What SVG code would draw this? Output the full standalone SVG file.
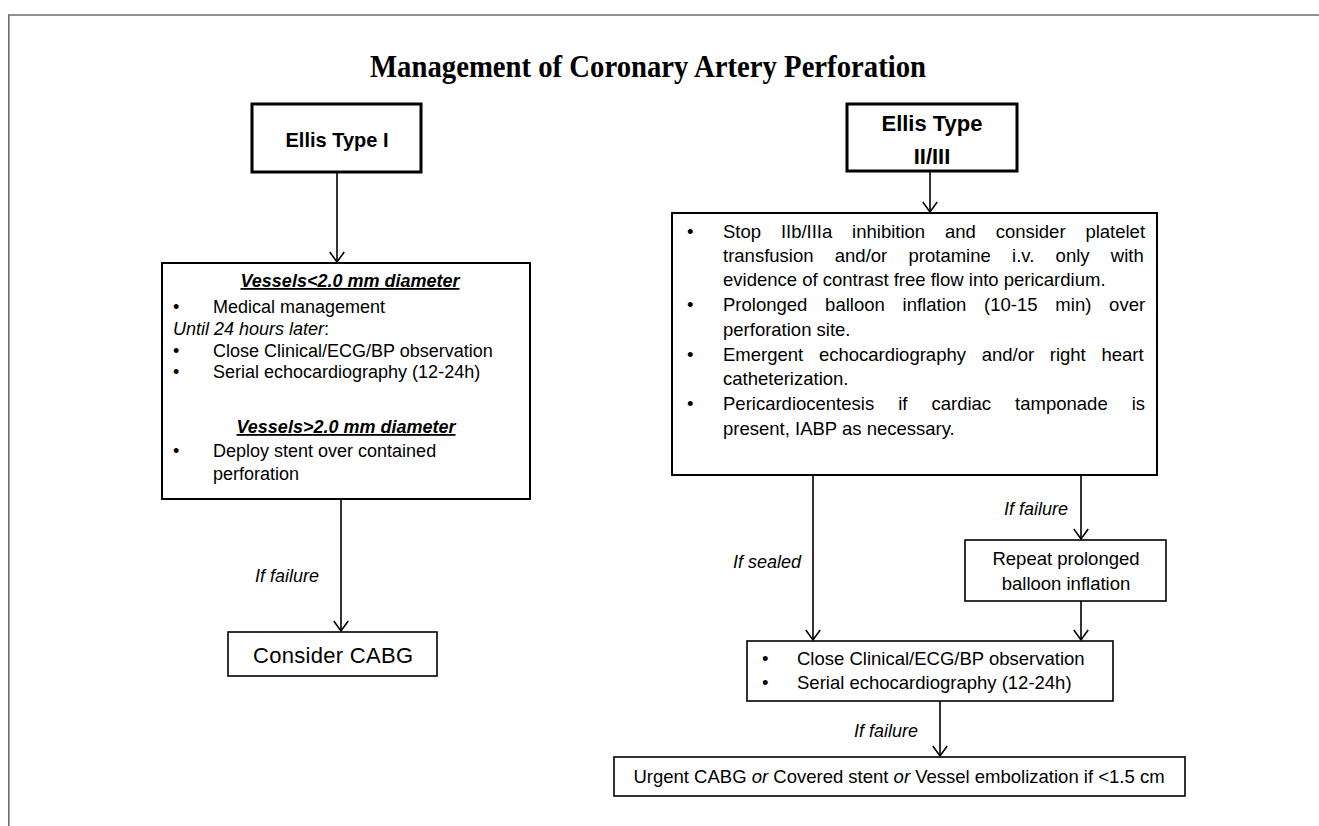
<svg xmlns="http://www.w3.org/2000/svg" width="1319" height="826" viewBox="0 0 1319 826">
<style>
.bg{fill:#fff}
.frame{fill:none;stroke:#6e6e6e;stroke-width:1.6}
.hbox{fill:#fff;stroke:#000;stroke-width:3}
.box{fill:#fff;stroke:#000;stroke-width:2}
.tbox{fill:#fff;stroke:#000;stroke-width:1.6}
.conn{fill:none;stroke:#000;stroke-width:1.6}
text{font-family:"Liberation Sans",Arial,sans-serif;fill:#000}
.title{font-family:"Liberation Serif","Times New Roman",serif;font-weight:bold;font-size:31px}
.head{font-weight:bold;font-size:20px}
.head2{font-weight:bold;font-size:22px}
.t{font-size:18px}
.tr{font-size:18.5px}
.sub{font-size:18px;font-weight:bold;font-style:italic;text-decoration:underline}
.lbl{font-size:18px;font-style:italic}
.i{font-style:italic}
</style>
<defs>
<marker id="arr" markerUnits="userSpaceOnUse" markerWidth="14" markerHeight="16" viewBox="0 0 14 16" refX="12" refY="8" orient="auto">
<path d="M2,0.8 L12,8 L2,15.2" fill="none" stroke="#000" stroke-width="1.6"/>
</marker>
</defs>
<rect class="bg" x="0" y="0" width="1319" height="826"/>
<path class="frame" d="M8.8,826 V15 H1319"/>
<text id="title" class="title" x="370" y="77" textLength="556" lengthAdjust="spacingAndGlyphs">Management of Coronary Artery Perforation</text>

<g id="connectors">
<line class="conn" x1="337" y1="172" x2="337" y2="262" marker-end="url(#arr)"/>
<line class="conn" x1="341" y1="499" x2="341" y2="631" marker-end="url(#arr)"/>
<line class="conn" x1="930" y1="171" x2="930" y2="212" marker-end="url(#arr)"/>
<line class="conn" x1="813" y1="475" x2="813" y2="640" marker-end="url(#arr)"/>
<line class="conn" x1="1081" y1="475" x2="1081" y2="539" marker-end="url(#arr)"/>
<line class="conn" x1="1081" y1="601" x2="1081" y2="640" marker-end="url(#arr)"/>
<line class="conn" x1="940" y1="701" x2="940" y2="756" marker-end="url(#arr)"/>
<text class="lbl" x="255" y="582">If failure</text>
<text class="lbl" x="733" y="568">If sealed</text>
<text class="lbl" x="1068" y="515" text-anchor="end">If failure</text>
<text class="lbl" x="918" y="737" text-anchor="end">If failure</text>
</g>

<g id="ellis1">
<rect class="hbox" x="252" y="104" width="169" height="68"/>
<text class="head" x="337" y="147" text-anchor="middle">Ellis Type I</text>
</g>

<g id="left-management">
<rect class="box" x="162" y="263" width="368" height="236"/>
<text class="sub" x="350" y="287" text-anchor="middle">Vessels&lt;2.0 mm diameter</text>
<text class="t" x="173" y="313">•</text>
<text class="t" x="213" y="313">Medical management</text>
<text class="t" x="173" y="335"><tspan class="i">Until 24 hours later</tspan>:</text>
<text class="t" x="173" y="357">•</text>
<text class="t" x="213" y="357">Close Clinical/ECG/BP observation</text>
<text class="t" x="173" y="378">•</text>
<text class="t" x="213" y="378">Serial echocardiography (12-24h)</text>
<text class="sub" x="346" y="433" text-anchor="middle">Vessels&gt;2.0 mm diameter</text>
<text class="t" x="173" y="457">•</text>
<text class="t" x="213" y="457">Deploy stent over contained</text>
<text class="t" x="213" y="480">perforation</text>
</g>

<g id="cabg">
<rect class="tbox" x="228" y="632" width="209" height="44"/>
<text x="333" y="663" text-anchor="middle" font-size="22" textLength="160">Consider CABG</text>
</g>

<g id="ellis23">
<rect class="hbox" x="847" y="104" width="170" height="67"/>
<text class="head2" x="932" y="131" text-anchor="middle">Ellis Type</text>
<text class="head2" x="932" y="164" text-anchor="middle">II/III</text>
</g>

<g id="right-management">
<rect class="box" x="672" y="213" width="485" height="262"/>
<text class="tr" x="687" y="238">•</text>
<text class="tr" x="723" y="238" word-spacing="14.68">Stop IIb/IIIa inhibition and consider platelet</text>
<text class="tr" x="723" y="262" word-spacing="16.14">transfusion and/or protamine i.v. only with</text>
<text class="tr" x="723" y="286">evidence of contrast free flow into pericardium.</text>
<text class="tr" x="687" y="311">•</text>
<text class="tr" x="723" y="311" word-spacing="12.64">Prolonged balloon inflation (10-15 min) over</text>
<text class="tr" x="723" y="336">perforation site.</text>
<text class="tr" x="687" y="361">•</text>
<text class="tr" x="723" y="361" word-spacing="10.54">Emergent echocardiography and/or right heart</text>
<text class="tr" x="723" y="385">catheterization.</text>
<text class="tr" x="687" y="410">•</text>
<text class="tr" x="723" y="410" word-spacing="18.88">Pericardiocentesis if cardiac tamponade is</text>
<text class="tr" x="723" y="435">present, IABP as necessary.</text>
</g>

<g id="repeat">
<rect class="tbox" x="965" y="540" width="201" height="61"/>
<text class="tr" x="1066" y="565" text-anchor="middle">Repeat prolonged</text>
<text class="tr" x="1066" y="590" text-anchor="middle">balloon inflation</text>
</g>

<g id="observation">
<rect class="tbox" x="747" y="641" width="366" height="60"/>
<text class="tr" x="762" y="665">•</text>
<text class="tr" x="797" y="665">Close Clinical/ECG/BP observation</text>
<text class="tr" x="762" y="689">•</text>
<text class="tr" x="797" y="689">Serial echocardiography (12-24h)</text>
</g>

<g id="urgent">
<rect class="tbox" x="614" y="757" width="571" height="39"/>
<text class="tr" x="899" y="783" text-anchor="middle">Urgent CABG <tspan class="i">or</tspan> Covered stent <tspan class="i">or</tspan> Vessel embolization if &lt;1.5 cm</text>
</g>
</svg>
